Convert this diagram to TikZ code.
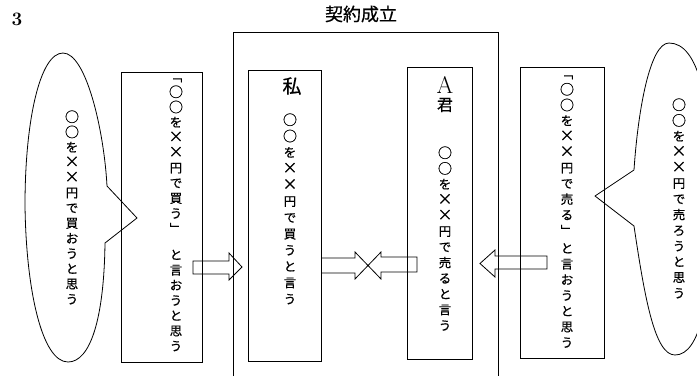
\documentclass[tikz,border=0pt]{standalone}
\usepackage{fontspec}
\newfontfamily\cjk[FakeBold=0.6]{Noto Sans CJK JP}
\newcommand\xx{\scalebox{1.2}{×}}
\newcommand\oo{\raisebox{-0.6pt}{\scalebox{1.12}{○}}}
\begin{document}
\begin{tikzpicture}[x=1pt,y=-1pt,line width=0.8pt,
  vtA/.style={align=center,inner sep=0pt,anchor=north,font=\cjk\fontsize{12.5}{15.2}\selectfont},
  vtB/.style={align=center,inner sep=0pt,anchor=north,font=\cjk\fontsize{12.5}{15.7}\selectfont},
  vtC/.style={align=center,inner sep=0pt,anchor=north,font=\cjk\fontsize{12.5}{16.3}\selectfont},
  txtbox/.style={draw,inner sep=0pt},
  blockarrow/.style={draw,line join=miter},
  bubble/.style={draw,line join=round}]
\useasboundingbox (0,0) rectangle (697,376);

% label and title
\node[font=\bfseries\fontsize{19}{19}\selectfont] (num) at (17,19) {3};
\node[font=\cjk\fontsize{18}{18}\selectfont] (title) at (361,14) {契約成立};

% contract frame (open at the bottom)
\coordinate (fa) at (233,376);
\coordinate (fb) at (233,32);
\coordinate (fc) at (498,32);
\coordinate (fd) at (498,376);
\draw (fa) -- (fb) -- (fc) -- (fd);

% boxes
\node[txtbox,minimum width=81pt,minimum height=290pt] (lbox) at (161.5,217) {};
\node[txtbox,minimum width=73pt,minimum height=291pt] (watashi) at (284.5,215.5) {};
\node[txtbox,minimum width=65pt,minimum height=292pt] (akun) at (439.5,213) {};
\node[txtbox,minimum width=84pt,minimum height=291pt] (rbox) at (562,212.5) {};

% left speech bubble
\draw[bubble] (105,243) .. controls (104,320) and (90,362) .. (68,362)
  .. controls (42,362) and (26,290) .. (25,205)
  .. controls (25,120) and (40,53) .. (63,53)
  .. controls (86,53) and (104,130) .. (107,186)
  -- (137,218) -- cycle;

% right speech bubble (cut at the right edge)
\begin{scope}
\clip (0,0) rectangle (697,376);
\draw[bubble] (634,170) -- (595,196) -- (634,226)
  .. controls (645,300) and (655,355) .. (675,355)
  .. controls (700,355) and (712,300) .. (712,200)
  .. controls (712,100) and (698,43) .. (669,43)
  .. controls (650,43) and (638,110) .. (634,170);
\end{scope}

% block arrows
\draw[blockarrow] (193,261) -- (229,261) -- (229,253) -- (242,267) -- (229,280) -- (229,274) -- (193,274) -- cycle;
\draw[blockarrow] (321,258) -- (355,258) -- (355,252) -- (368,265.5) -- (355,279) -- (355,273) -- (321,273);
\draw[blockarrow] (417,257) -- (381,257) -- (381,252) -- (368,265.5) -- (381,279) -- (381,272) -- (417,272) -- cycle;
\draw[blockarrow] (547,256) -- (495,256) -- (495,250) -- (480,263.5) -- (495,277) -- (495,269) -- (547,269) -- cycle;

% texts
\node[vtA] (t1) at (72,110) {\oo\\\oo\\を\\\xx\\\xx\\円\\で\\買\\お\\う\\と\\思\\う};
\node[vtA] (t2) at (176,78) {﹁\\\oo\\\oo\\を\\\xx\\\xx\\円\\で\\買\\う\\﹂\\[11pt]と\\言\\お\\う\\と\\思\\う};
\node[font=\cjk\fontsize{19}{19}\selectfont] (t3a) at (292,86) {私};
\node[vtC] (t3) at (290,113) {\oo\\\oo\\を\\\xx\\\xx\\円\\で\\買\\う\\と\\言\\う};
\node[font=\fontsize{24}{24}\selectfont] (t4a) at (445,85) {A};
\node[font=\cjk\fontsize{16}{16}\selectfont] (t4b) at (445,105) {君};
\node[vtB] (t4) at (445,146) {\oo\\\oo\\を\\\xx\\\xx\\円\\で\\売\\る\\と\\言\\う};
\node[vtB] (t5) at (567,75) {﹁\\\oo\\\oo\\を\\\xx\\\xx\\円\\で\\売\\る\\﹂\\[2pt]と\\言\\お\\う\\と\\思\\う};
\node[vtB] (t6) at (679,98) {\oo\\\oo\\を\\\xx\\\xx\\円\\で\\売\\ろ\\う\\と\\思\\う};
\end{tikzpicture}
\end{document}
